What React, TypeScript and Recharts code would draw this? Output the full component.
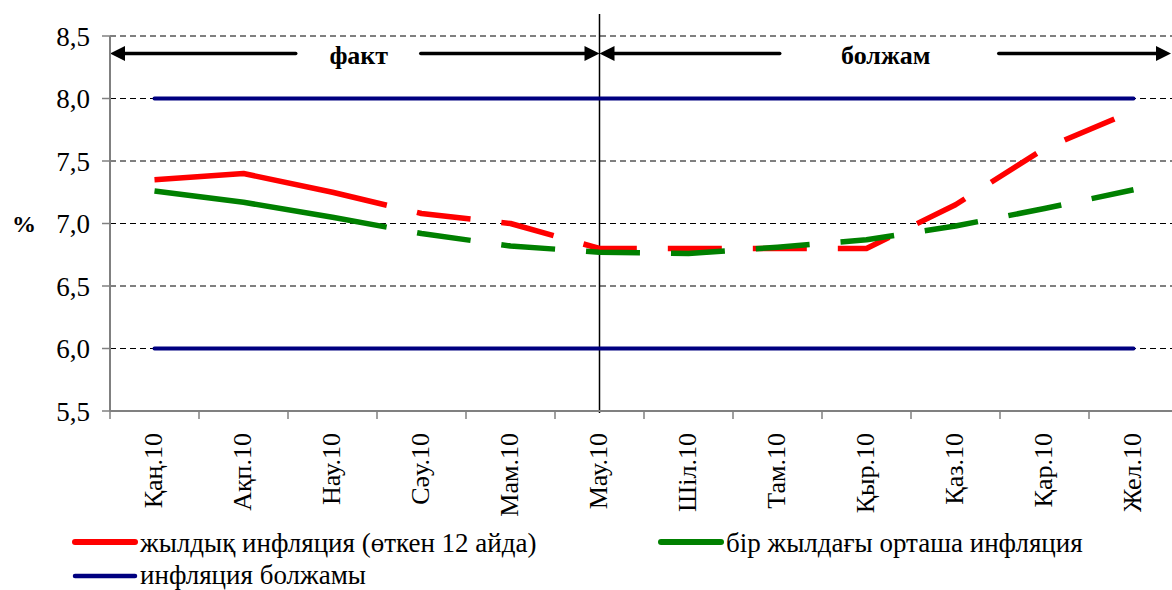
import React from "react";
import { LineChart, Line, XAxis, YAxis, CartesianGrid, ReferenceLine } from "recharts";

// months of 2010 (kazakh short names)
const months = [
  "Қаң.10", "Ақп.10", "Нау.10", "Сәу.10", "Мам.10", "Мау.10",
  "Шіл.10", "Там.10", "Қыр.10", "Қаз.10", "Қар.10", "Жел.10",
];

// values, %
const annualInflation = [7.35, 7.4, 7.25, 7.08, 7.0, 6.8, 6.8, 6.8, 6.8, 7.15, 7.6, 7.9];
const averageInflation = [7.26, 7.17, 7.05, 6.92, 6.82, 6.77, 6.76, 6.81, 6.87, 6.98, 7.12, 7.27];
const forecastHigh = [8, 8, 8, 8, 8, 8, 8, 8, 8, 8, 8, 8];
const forecastLow = [6, 6, 6, 6, 6, 6, 6, 6, 6, 6, 6, 6];

const yTicks = [5.5, 6, 6.5, 7, 7.5, 8, 8.5];
const splitMonth = "Мау.10";
const arrowLevel = 8.36;

const seriesNames = [
  "жылдық инфляция (өткен 12 айда)",
  "бір жылдағы орташа инфляция",
  "инфляция болжамы",
];
const seriesColors = ["#FF0000", "#008000", "#000080"];
const periodLabels = ["факт", "болжам"];

const data = months.map((month, i) => ({
  month,
  annual: annualInflation[i],
  average: averageInflation[i],
  high: forecastHigh[i],
  low: forecastLow[i],
}));

const FONT = "'Liberation Serif', 'Times New Roman', serif";

// solid start, then long dashes (like the excel "long dash" look)
const dashPattern = (solid: number) =>
  `${solid} 31 ` + Array(24).fill("54 31").join(" ");

const fmt = (v: number) => v.toFixed(1).replace(".", ",");

const MonthTick = (props: any) => {
  const { x, y, payload, width } = props;
  const band = (width ?? 1068) / months.length;
  const ty = y + 22;
  const tx = x - 1;
  return (
    <g>
      <line x1={x - band / 2} x2={x - band / 2} y1={y} y2={y + 8} stroke="#808080" strokeWidth={1.5} />
      <text
        x={tx}
        y={ty}
        transform={`rotate(-90, ${tx}, ${ty})`}
        textAnchor="end"
        dominantBaseline="central"
        style={{ fontSize: 26, fontFamily: FONT }}
        fill="#000"
      >
        {payload.value}
      </text>
    </g>
  );
};

const SplitLine = (props: any) => {
  const { x1, y1, y2 } = props;
  const top = Math.min(y1, y2);
  const bottom = Math.max(y1, y2);
  return <line x1={x1} x2={x1} y1={top - 22} y2={bottom + 2} stroke="#000" strokeWidth={1.5} />;
};

const PeriodArrows = (props: any) => {
  const { x1, x2, y1 } = props;
  const left = Math.min(x1, x2);
  const right = Math.max(x1, x2);
  const band = (right - left) / months.length;
  const split = left + band * (months.indexOf(splitMonth) + 0.5);
  const y = y1;
  const rightTip = right - 7;

  const head = (tip: number, dir: number) => (
    <polygon
      points={`${tip},${y} ${tip - dir * 15},${y - 7.5} ${tip - dir * 15},${y + 7.5}`}
      fill="#000"
    />
  );
  const seg = (a: number, b: number) => (
    <line x1={a} x2={b} y1={y} y2={y} stroke="#000" strokeWidth={3.5} strokeLinecap="round" />
  );

  const factMid = (left + split) / 2 + 4;
  const fcMid = (split + right) / 2 - 3;
  const labelStyle = { fontSize: 26, fontWeight: "bold" as const, fontFamily: FONT };

  return (
    <g>
      {head(left, -1)}
      {seg(left + 12, factMid - 63)}
      {seg(factMid + 62, split - 12)}
      {head(split, 1)}
      <text x={factMid} y={y + 10} textAnchor="middle"
        style={labelStyle} fill="#000">{periodLabels[0]}</text>

      {head(split, -1)}
      {seg(split + 12, fcMid - 106)}
      {seg(fcMid + 113, rightTip - 12)}
      {head(rightTip, 1)}
      <text x={fcMid} y={y + 10} textAnchor="middle"
        style={labelStyle} fill="#000">{periodLabels[1]}</text>
    </g>
  );
};

const legendSpots = [
  { x: 75, y: 542 },
  { x: 661, y: 542 },
  { x: 75, y: 576 },
];

export default function App() {
  return (
    <div style={{ position: "absolute", left: 0, top: 0, width: 1172, height: 590, overflow: "hidden", background: "#fff", fontFamily: FONT }}>
      <LineChart
        width={1190}
        height={590}
        data={data}
        margin={{ top: 36, right: 12, bottom: 0, left: 0 }}
      >
        <CartesianGrid vertical={false} stroke="#000" strokeDasharray="6 4" />
        <XAxis
          dataKey="month"
          scale="band"
          interval={0}
          height={179}
          tickSize={0}
          tickMargin={0}
          tickLine={false}
          axisLine={{ stroke: "#808080", strokeWidth: 2 }}
          tick={<MonthTick />}
        />
        <YAxis
          domain={[5.5, 8.5]}
          ticks={yTicks}
          allowDataOverflow
          width={110}
          tickSize={8}
          tickMargin={12}
          tickFormatter={fmt}
          axisLine={{ stroke: "#808080", strokeWidth: 2 }}
          tickLine={{ stroke: "#808080", strokeWidth: 1.5 }}
          tick={{ fill: "#000", fontSize: 27, fontFamily: FONT, style: { fontFamily: FONT } }}
          label={{
            value: "%",
            position: "insideLeft",
            offset: 12,
            style: { fill: "#000", fontSize: 24, fontWeight: "bold", fontFamily: FONT },
          }}
        />
        <ReferenceLine y={arrowLevel} shape={PeriodArrows} />
        <ReferenceLine x={splitMonth} shape={SplitLine} />

        <Line
          dataKey="annual"
          stroke={seriesColors[0]}
          strokeWidth={5.5}
          strokeDasharray={dashPattern(236)}
          strokeLinejoin="round"
          dot={false}
          activeDot={false}
          isAnimationActive={false}
        />
        <Line
          dataKey="average"
          stroke={seriesColors[1]}
          strokeWidth={5.5}
          strokeDasharray={dashPattern(235)}
          strokeLinejoin="round"
          dot={false}
          activeDot={false}
          isAnimationActive={false}
        />
        <Line
          dataKey="high"
          stroke={seriesColors[2]}
          strokeWidth={4}
          strokeLinecap="round"
          dot={false}
          activeDot={false}
          isAnimationActive={false}
        />
        <Line
          dataKey="low"
          stroke={seriesColors[2]}
          strokeWidth={4}
          strokeLinecap="round"
          dot={false}
          activeDot={false}
          isAnimationActive={false}
        />
      </LineChart>

      <svg width={1172} height={590} style={{ position: "absolute", left: 0, top: 0, pointerEvents: "none" }}>
        {seriesNames.map((name, i) => (
          <g key={name}>
            <line
              x1={legendSpots[i].x}
              x2={legendSpots[i].x + 60}
              y1={legendSpots[i].y}
              y2={legendSpots[i].y}
              stroke={seriesColors[i]}
              strokeWidth={i === 2 ? 4.5 : 6}
              strokeLinecap="round"
            />
            <text
              x={legendSpots[i].x + 65}
              y={legendSpots[i].y + (i === 2 ? 8 : 10)}
              style={{ fontSize: 27, fontFamily: FONT }}
              fill="#000"
            >
              {name}
            </text>
          </g>
        ))}
      </svg>
    </div>
  );
}
